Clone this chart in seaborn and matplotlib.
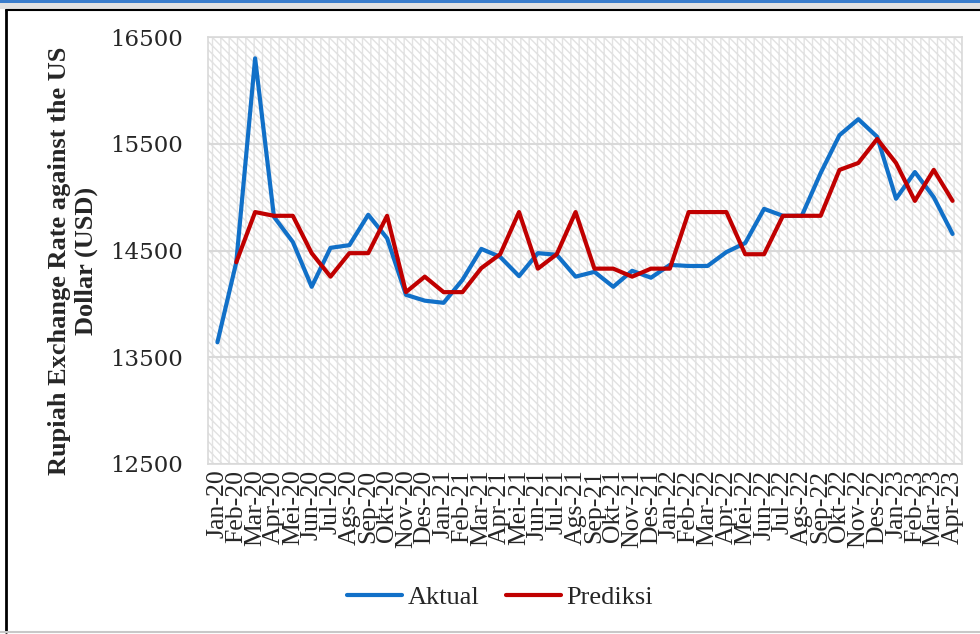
import numpy as np
import pandas as pd
import matplotlib
matplotlib.use("Agg")
import matplotlib.pyplot as plt
import seaborn as sns
from matplotlib.patches import Rectangle

# Data (monthly, Jan-20 .. Apr-23)
months = [
    "Jan-20", "Feb-20", "Mar-20", "Apr-20", "Mei-20", "Jun-20", "Jul-20", "Ags-20",
    "Sep-20", "Okt-20", "Nov-20", "Des-20", "Jan-21", "Feb-21", "Mar-21", "Apr-21",
    "Mei-21", "Jun-21", "Jul-21", "Ags-21", "Sep-21", "Okt-21", "Nov-21", "Des-21",
    "Jan-22", "Feb-22", "Mar-22", "Apr-22", "Mei-22", "Jun-22", "Jul-22", "Ags-22",
    "Sep-22", "Okt-22", "Nov-22", "Des-22", "Jan-23", "Feb-23", "Mar-23", "Apr-23",
]
aktual = [
    13640, 14390, 16300, 14815, 14580, 14160, 14525, 14550,
    14835, 14615, 14085, 14030, 14010, 14225, 14515, 14440,
    14260, 14475, 14460, 14255, 14300, 14160, 14310, 14245,
    14365, 14355, 14355, 14485, 14570, 14890, 14825, 14825,
    15225, 15580, 15730, 15565, 14985, 15235, 15000, 14655,
]
prediksi = [
    np.nan, 14390, 14860, 14825, 14825, 14475, 14255, 14475,
    14475, 14825, 14110, 14255, 14110, 14110, 14335, 14465,
    14860, 14330, 14465, 14860, 14330, 14330, 14255, 14330,
    14330, 14860, 14860, 14860, 14465, 14465, 14825, 14825,
    14825, 15255, 15320, 15545, 15320, 14965, 15255, 14965,
]
y_ticks = [12500, 13500, 14500, 15500, 16500]

df = pd.DataFrame({
    "pos": list(range(len(months))) * 2,
    "value": aktual + prediksi,
    "series": ["Aktual"] * len(months) + ["Prediksi"] * len(months),
})

sns.set_style("white")
plt.rcParams["font.family"] = ["Liberation Serif", "DejaVu Serif"]
plt.rcParams["hatch.color"] = "#e2e2e2"
plt.rcParams["hatch.linewidth"] = 1.0

fig = plt.figure(figsize=(9.8, 6.34), dpi=100)
ax = fig.add_axes([208 / 980, 1 - 464 / 634, (962 - 208) / 980, (464 - 37) / 634])

# patterned plot background
ax.patch.set_facecolor("white")
ax.patch.set_hatch("\\\\\\\\||")
ax.patch.set_edgecolor("#e2e2e2")

sns.lineplot(
    data=df, x="pos", y="value", hue="series",
    palette={"Aktual": "#1170c8", "Prediksi": "#c00000"},
    linewidth=3, ax=ax, legend=True,
)

ax.set_xlim(-0.5, len(months) - 0.5)
ax.set_ylim(y_ticks[0], y_ticks[-1])
ax.set_yticks(y_ticks)
ax.set_yticklabels([str(t) for t in y_ticks], fontfamily="DejaVu Serif", fontsize=16.5)
ax.set_xticks(range(len(months)))
ax.set_xticklabels(months, rotation=90, fontsize=18.5)
ax.tick_params(axis="both", length=0)
ax.tick_params(axis="y", pad=18)
ax.tick_params(axis="x", pad=4)

ax.grid(axis="y", color="#d9d9d9", linewidth=1.5)
ax.grid(axis="x", visible=False)
for s in ax.spines.values():
    s.set_color("#d9d9d9")
    s.set_linewidth(1.2)

ax.set_xlabel("")
ax.set_ylabel("")
fig.text(73 / 980, 1 - 261 / 634, "Rupiah Exchange Rate against the US\nDollar (USD)",
         rotation=90, ha="center", va="center", fontsize=19, fontweight="bold",
         multialignment="center")

handles, labels = ax.get_legend_handles_labels()
ax.get_legend().remove()
leg = fig.legend(handles, labels, loc="center", bbox_to_anchor=(500 / 980, 1 - 597 / 634),
                 ncol=2, frameon=False, fontsize=19, handlelength=2.1,
                 handletextpad=0.2, columnspacing=1.0)
for h in leg.legend_handles:
    h.set_linewidth(3)

# window-like frame around the chart
fig.patches.append(Rectangle((0, 1 - 3 / 634), 1, 3 / 634, transform=fig.transFigure,
                             facecolor="#3a7dcc", edgecolor="none", zorder=0))
fig.patches.append(Rectangle((0, 1 - 9 / 634), 1, 6 / 634, transform=fig.transFigure,
                             facecolor="#e2e2e2", edgecolor="none", zorder=0))
fig.add_artist(plt.Line2D([6 / 980, 6 / 980], [2 / 634, 1 - 10 / 634],
                          transform=fig.transFigure, color="black", linewidth=2))
fig.add_artist(plt.Line2D([6 / 980, 1], [1 - 10 / 634, 1 - 10 / 634],
                          transform=fig.transFigure, color="black", linewidth=1.5))
fig.add_artist(plt.Line2D([0, 1], [2 / 634, 2 / 634],
                          transform=fig.transFigure, color="#c8c8c8", linewidth=1.5))

fig.savefig("out.png", dpi=100)
